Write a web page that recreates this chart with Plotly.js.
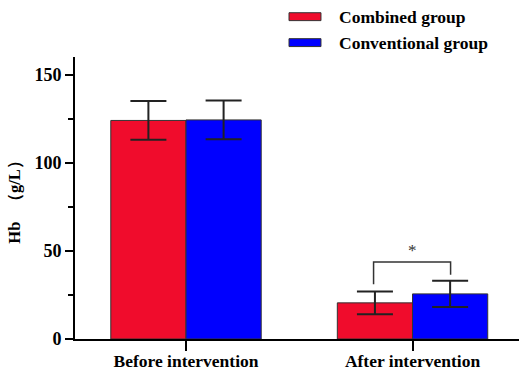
<!DOCTYPE html>
<html><head><meta charset="utf-8">
<script src="https://cdn.plot.ly/plotly-3.0.1.min.js"></script>
<style>body{margin:0;padding:0;background:#fff}#chart{width:521px;height:374px}</style>
</head><body><div id="chart"></div>
<script>
const categories = ["Before intervention", "After intervention"];
const seriesNames = ["Combined group", "Conventional group"];
const combinedMean = [124, 20.5];
const combinedSD = [11, 6.5];
const conventionalMean = [124.3, 25.6];
const conventionalSD = [11, 7.5];
const yTicks = [0, 50, 100, 150];
const colors = ["#F00C2C", "#0000FF"];

const font = "Liberation Serif, Times New Roman, serif";
const errStyle = (arr) => ({type: 'data', array: arr, visible: true, color: '#222', thickness: 2, width: 18});

const traces = [
  {type: 'bar', name: seriesNames[0], x: categories, y: combinedMean, error_y: errStyle(combinedSD),
   marker: {color: colors[0], line: {color: '#333', width: 1}}},
  {type: 'bar', name: seriesNames[1], x: categories, y: conventionalMean, error_y: errStyle(conventionalSD),
   marker: {color: colors[1], line: {color: '#333', width: 1}}}
];

const yTitle = "Hb\u2002\u2009（g/L）\u2002\u2009";

const layout = {
  width: 521, height: 374,
  margin: {l: 75, r: 2, t: 57, b: 35},
  paper_bgcolor: '#fff', plot_bgcolor: '#fff',
  showlegend: false,
  barmode: 'group', bargap: 0.336, bargroupgap: 0,
  font: {family: font, color: '#000', size: 17},
  xaxis: {
    type: 'category', range: [-0.49, 1.47],
    showline: true, linecolor: '#000', linewidth: 2,
    ticks: 'outside', ticklen: 10, tickwidth: 2, tickcolor: '#000',
    ticklabelstandoff: -5,
    tickfont: {family: font, size: 17.5, weight: 'bold'},
    showgrid: false, zeroline: false, fixedrange: true
  },
  yaxis: {
    range: [0, 160], tickvals: yTicks,
    showline: true, linecolor: '#000', linewidth: 2,
    ticks: 'outside', ticklen: 8, tickwidth: 2, tickcolor: '#000',
    minor: {dtick: 25, tick0: 0, ticks: 'outside', ticklen: 5, tickwidth: 2, tickcolor: '#000', showgrid: false},
    tickfont: {family: font, size: 18, weight: 'bold'},
    title: {text: yTitle, font: {family: font, size: 16.5, weight: 'bold'}, standoff: 10},
    showgrid: false, zeroline: false
  },
  shapes: [
    {type: 'rect', xref: 'paper', yref: 'paper', x0: 0.482, x1: 0.554, y0: 1.129, y1: 1.157,
     fillcolor: colors[0], line: {color: '#333', width: 1}},
    {type: 'rect', xref: 'paper', yref: 'paper', x0: 0.482, x1: 0.554, y0: 1.037, y1: 1.065,
     fillcolor: colors[1], line: {color: '#333', width: 1}},
    {type: 'path', xref: 'x', yref: 'y', path: 'M 0.828 31 L 0.828 43.7 L 1.168 43.7 L 1.168 36.5',
     line: {color: '#333', width: 1.5}}
  ],
  annotations: [
    {xref: 'paper', yref: 'paper', x: 0.59, y: 1.143, xanchor: 'left', yanchor: 'middle', showarrow: false,
     text: seriesNames[0], font: {family: font, size: 17.5, weight: 'bold'}},
    {xref: 'paper', yref: 'paper', x: 0.59, y: 1.051, xanchor: 'left', yanchor: 'middle', showarrow: false,
     text: seriesNames[1], font: {family: font, size: 17.5, weight: 'bold'}},
    {xref: 'x', yref: 'y', x: 1, y: 50, xanchor: 'center', yanchor: 'middle', showarrow: false,
     text: '*', font: {family: font, size: 17, color: '#333'}}
  ]
};

Plotly.newPlot('chart', traces, layout, {displayModeBar: false, staticPlot: true});
</script></body></html>
